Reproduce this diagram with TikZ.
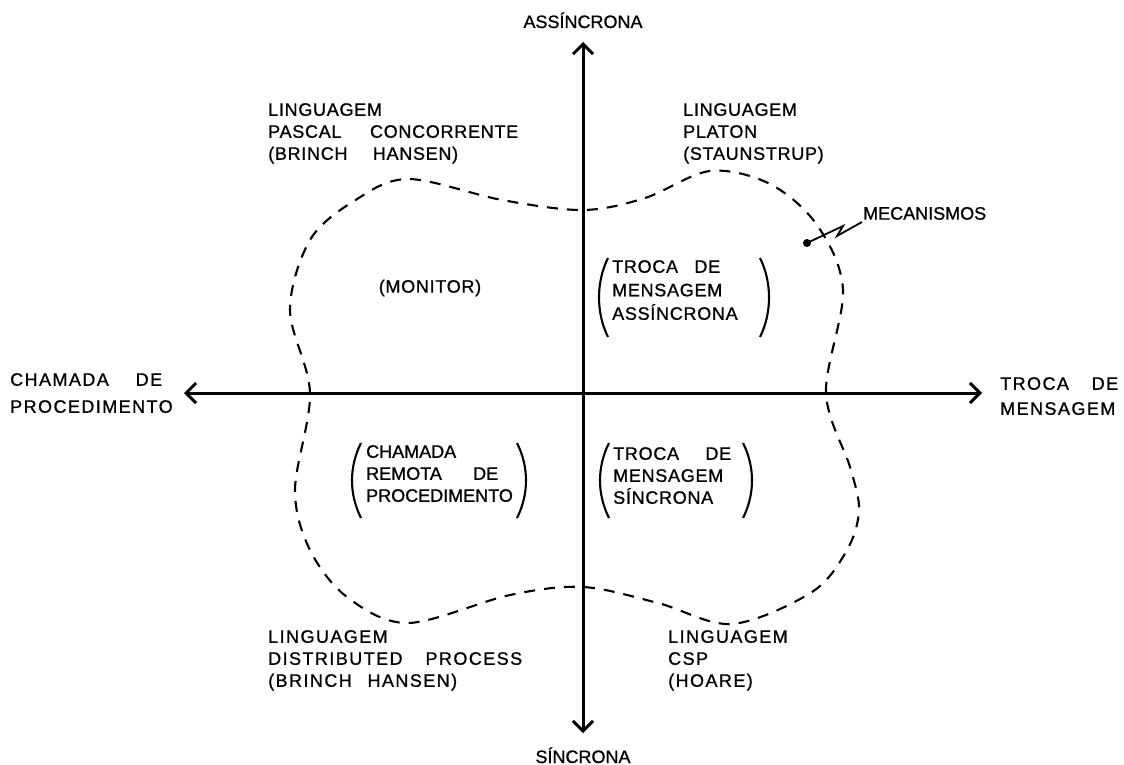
\documentclass[tikz,border=0pt]{standalone}
\usepackage{fontspec}
\setmainfont{Liberation Sans}[FakeBold=0.9]
\usetikzlibrary{arrows.meta}

\begin{document}
\begin{tikzpicture}[x=1pt,y=-1pt,
  lbl/.style={inner sep=0pt, align=left,
    font=\fontsize{18}{22}\selectfont\addfontfeatures{LetterSpace=4}},
  wide/.style={lbl, font=\fontsize{18}{22}\selectfont\addfontfeatures{LetterSpace=8}},
  plain/.style={lbl, font=\fontsize{18}{22}\selectfont},
  axis/.style={line width=3pt,
    {Straight Barb[length=10pt,width=20pt]}-{Straight Barb[length=10pt,width=20pt]}},
  region/.style={line width=2.1pt, dash pattern=on 11pt off 9pt},
  paren/.style={line width=2.1pt},
  leader/.style={line width=1.8pt}]
\useasboundingbox (0,0) rectangle (1124,765);

% axes
\coordinate (top) at (583,42);
\coordinate (bottom) at (583,733);
\coordinate (left) at (184,393);
\coordinate (right) at (982,393);
\draw[axis] (bottom) -- (top);
\draw[axis] (left) -- (right);

% axis labels
\node[plain, anchor=base] (async) at (583,28) {ASSÍNCRONA};
\node[plain, anchor=base] (sync) at (583,763) {SÍNCRONA};
\node[wide, anchor=north west, font=\fontsize{18}{27}\selectfont\addfontfeatures{LetterSpace=8}]
  (call) at (10,373) {\makebox[152pt][s]{CHAMADA DE}\\PROCEDIMENTO};
\node[wide, anchor=north west, font=\fontsize{18}{25}\selectfont\addfontfeatures{LetterSpace=8}]
  (msg) at (1000,377) {\makebox[118pt][s]{TROCA DE}\\MENSAGEM};

% dashed region of the mechanisms
\draw[region] plot[smooth cycle, tension=0.55] coordinates {
  (583,210) (645,198) (710,171) (770,184) (817,225) (843,290) (826,393)
  (850,467) (859,510) (847,550) (812,592) (732,624) (658,603) (583,587)
  (510,595) (408,623) (347,597) (310,550) (295,490) (310,393) (290,310)
  (310,240) (354,201) (408,179) (502,200)};

% languages
\node[lbl, anchor=north west] (pascal) at (268,103)
  {LINGUAGEM\\\makebox[250pt][s]{PASCAL CONCORRENTE}\\\makebox[190pt][s]{(BRINCH HANSEN)}};
\node[lbl, anchor=north west] (platon) at (683,103)
  {LINGUAGEM\\PLATON\\(STAUNSTRUP)};
\node[wide, anchor=north west] (dp) at (268,630)
  {LINGUAGEM\\\makebox[254pt][s]{DISTRIBUTED PROCESS}\\\makebox[189pt][s]{(BRINCH HANSEN)}};
\node[wide, anchor=north west] (csp) at (668,630)
  {LINGUAGEM\\CSP\\(HOARE)};

% mechanisms in each quadrant
\node[lbl, anchor=center] (monitor) at (430,288) {(MONITOR)};

\node[lbl, anchor=north west, font=\fontsize{18}{23.5}\selectfont\addfontfeatures{LetterSpace=4}]
  (tma) at (612,260) {\makebox[108pt][s]{TROCA DE}\\MENSAGEM\\ASSÍNCRONA};
\draw[paren] (608,258) .. controls (596,282) and (596,313) .. (608,337);
\draw[paren] (760,258) .. controls (772,282) and (772,313) .. (760,337);

\node[plain, anchor=north west] (rpc) at (366,445)
  {CHAMADA\\\makebox[132pt][s]{REMOTA DE}\\PROCEDIMENTO};
\draw[paren] (361,443) .. controls (349,467) and (349,494) .. (361,518);
\draw[paren] (517,443) .. controls (529,467) and (529,494) .. (517,518);

\node[lbl, anchor=north west] (tms) at (613,447)
  {\makebox[118pt][s]{TROCA DE}\\MENSAGEM\\SÍNCRONA};
\draw[paren] (609,443) .. controls (597,467) and (597,494) .. (609,518);
\draw[paren] (743,443) .. controls (755,467) and (755,494) .. (743,518);

% label of the dashed region
\node[inner sep=0pt, anchor=south west, font=\fontsize{18}{22}\selectfont]
  (mec) at (863,220) {MECANISMOS};
\node[circle, fill, inner sep=0pt, minimum size=8pt] (dot) at (807,243) {};
\draw[leader] (dot.center) -- (843,226) -- (837,236) -- ([xshift=-1pt,yshift=-2pt]mec.south west);
\end{tikzpicture}
\end{document}
